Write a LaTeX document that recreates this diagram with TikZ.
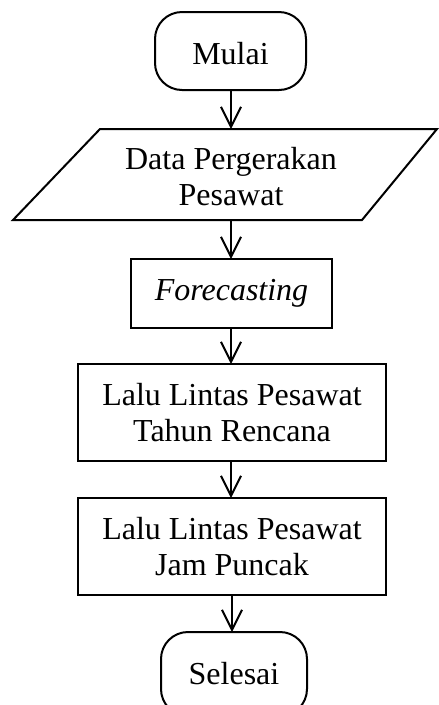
\documentclass[tikz,border=0pt]{standalone}
\usepackage{fontspec}
\setmainfont{Liberation Serif}
\usetikzlibrary{arrows.meta}
\begin{document}
\begin{tikzpicture}[x=1pt,y=-1pt,
  every node/.style={font=\fontsize{32}{35.5}\selectfont, align=center, inner sep=0pt, outer sep=0pt},
  line/.style={line width=2pt},
  terminal/.style={draw, line width=2pt, rounded corners=27pt},
  procbox/.style={draw, line width=2pt},
  flow/.style={line width=2pt, -{Straight Barb[length=20pt,width=20pt,line width=2pt]}}]
\useasboundingbox (0,0) rectangle (439,705);
\begin{scope}
\clip (0,0) rectangle (439,705);
\node[terminal, minimum width=151pt, minimum height=78pt] (mulai) at (230.5,51) {\raisebox{-3pt}[\height][\depth]{Mulai}};
\draw[line, line join=miter] (100,129) -- (437,129) -- (362,220) -- (13,220) -- cycle;
\node[minimum width=200pt, minimum height=91pt] (data) at (231,174.5) {\raisebox{-6pt}[\height][\depth]{\begin{tabular}{@{}c@{}}Data Pergerakan\\Pesawat\end{tabular}}};
\node[procbox, minimum width=201pt, minimum height=69pt] (fore) at (231.5,293.5) {\itshape Forecasting};
\node[procbox, minimum width=308pt, minimum height=97pt] (tahun) at (232,412.5) {Lalu Lintas Pesawat\\Tahun Rencana};
\node[procbox, minimum width=308pt, minimum height=97pt] (jam) at (232,546.5) {Lalu Lintas Pesawat\\Jam Puncak};
\node[terminal, minimum width=146pt, minimum height=84pt] (selesai) at (234,674) {Selesai};
\end{scope}
\draw[flow] (mulai.south -| 231,0) -- (data.north -| 231,0);
\draw[flow] (data.south -| 231,0) -- (fore.north -| 231,0);
\draw[flow] (fore.south -| 231,0) -- (tahun.north -| 231,0);
\draw[flow] (tahun.south -| 231,0) -- (jam.north -| 231,0);
\draw[flow] (jam.south -| 232,0) -- (selesai.north -| 232,0);
\end{tikzpicture}
\end{document}
